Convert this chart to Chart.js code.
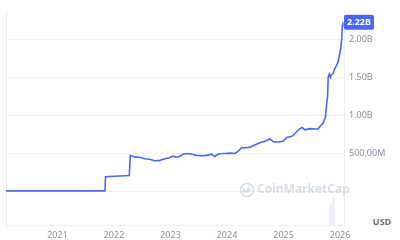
<!DOCTYPE html>
<html>
<head>
<meta charset="utf-8">
<script src="https://cdn.jsdelivr.net/npm/chart.js@4.4.1/dist/chart.umd.min.js"></script>
<style>
  html, body { margin: 0; padding: 0; background: #fff; }
  #wrap { width: 400px; height: 240px; position: relative; }
</style>
</head>
<body>
<div id="wrap"><canvas id="myChart"></canvas></div>
<script>
// dates as decimal years, market cap in billions USD
const dates = [2020.09, 2021.84, 2021.85, 2022.27, 2022.29, 2022.36, 2022.45, 2022.54, 2022.63, 2022.72,
  2022.81, 2022.90, 2022.98, 2023.04, 2023.11, 2023.16, 2023.22, 2023.29, 2023.38, 2023.46,
  2023.55, 2023.64, 2023.73, 2023.78, 2023.84, 2023.91, 2023.98, 2024.05, 2024.14, 2024.19,
  2024.26, 2024.32, 2024.40, 2024.49, 2024.58, 2024.67, 2024.76, 2024.83, 2024.90, 2024.99,
  2025.06, 2025.15, 2025.22, 2025.29, 2025.33, 2025.38, 2025.47, 2025.56, 2025.61, 2025.65,
  2025.70, 2025.74, 2025.76, 2025.78, 2025.79, 2025.81, 2025.83, 2025.84, 2025.88, 2025.90,
  2025.96, 2025.99, 2026.01, 2026.03, 2026.04, 2026.05];
const marketCap = [0.01, 0.01, 0.196, 0.21, 0.475, 0.455, 0.45, 0.43, 0.425, 0.405,
  0.41, 0.43, 0.445, 0.465, 0.45, 0.46, 0.49, 0.5, 0.49, 0.475,
  0.47, 0.475, 0.49, 0.46, 0.49, 0.5, 0.5, 0.505, 0.5, 0.525,
  0.575, 0.575, 0.58, 0.61, 0.64, 0.66, 0.69, 0.65, 0.65, 0.66,
  0.71, 0.725, 0.775, 0.825, 0.84, 0.81, 0.825, 0.82, 0.82, 0.86,
  0.9, 0.975, 1.125, 1.25, 1.5, 1.54, 1.5, 1.525, 1.55, 1.6,
  1.69, 1.79, 1.875, 2.0, 2.175, 2.22];
const volDates = [2025.835, 2025.885];
const volume = [0.75, 1.0];
const yearTicks = [2021, 2022, 2023, 2024, 2025, 2026];
const priceTicks = [0, 0.5, 1, 1.5, 2];

const blue = '#4a68f5';

function fmt(v) {
  if (v === 0) return '';
  if (v < 1) return (v * 1000).toFixed(2) + 'M';
  return v.toFixed(2) + 'B';
}

const extras = {
  id: 'extras',
  beforeDatasetsDraw(chart) {
    const c = chart.ctx, a = chart.chartArea;
    c.save();
    // left border
    c.strokeStyle = '#eceef2';
    c.lineWidth = 1;
    c.beginPath();
    c.moveTo(a.left + 0.5, a.top);
    c.lineTo(a.left + 0.5, a.bottom);
    c.stroke();
    // watermark
    c.globalAlpha = 0.5;
    c.strokeStyle = '#b8bfcc';
    c.fillStyle = '#b8bfcc';
    c.lineWidth = 1.6;
    const lx = 247, ly = 190;
    c.beginPath();
    c.arc(lx, ly, 6.5, 0, Math.PI * 2);
    c.stroke();
    c.beginPath();
    c.moveTo(lx - 3.5, ly + 3);
    c.lineTo(lx - 3.5, ly - 1);
    c.lineTo(lx - 1, ly + 2);
    c.lineTo(lx + 1.5, ly - 2);
    c.lineTo(lx + 1.5, ly + 1);
    c.lineTo(lx + 4, ly - 1);
    c.stroke();
    c.font = 'bold 12px "Noto Sans", sans-serif';
    c.textBaseline = 'middle';
    c.textAlign = 'left';
    c.fillText('CoinMarketCap', 257, ly);
    c.restore();
  },
  afterDraw(chart) {
    const c = chart.ctx, a = chart.chartArea;
    const y = chart.scales.y;
    const last = marketCap[marketCap.length - 1];
    const py = y.getPixelForValue(last);
    c.save();
    c.fillStyle = blue;
    c.beginPath();
    c.roundRect(a.right, py - 7.5, 30, 15, 2);
    c.fill();
    c.fillStyle = '#fff';
    c.font = 'bold 9px "Noto Sans", sans-serif';
    c.textBaseline = 'middle';
    c.textAlign = 'left';
    c.fillText(last.toFixed(2) + 'B', a.right + 3, py);
    c.fillStyle = '#6b7280';
    c.font = 'bold 9px "Noto Sans", sans-serif';
    c.textAlign = 'center';
    c.fillText('USD', 382, 222);
    c.restore();
  }
};

const ctx = document.getElementById('myChart').getContext('2d');
const myChart = new Chart(ctx, {
  data: {
    datasets: [{
      type: 'line',
      data: dates.map((d, i) => ({ x: d, y: marketCap[i] })),
      borderColor: blue,
      borderWidth: 1.6,
      pointRadius: 0,
      tension: 0,
      yAxisID: 'y',
      order: 1
    }, {
      type: 'bar',
      data: volDates.map((d, i) => ({ x: d, y: volume[i] })),
      backgroundColor: '#eef0f5',
      barThickness: 2.5,
      grouped: false,
      yAxisID: 'vol',
      order: 2
    }]
  },
  options: {
    responsive: true,
    maintainAspectRatio: false,
    animation: false,
    layout: { padding: { left: 6, top: 0, right: 0, bottom: 0 } },
    plugins: { legend: { display: false }, tooltip: { enabled: false } },
    scales: {
      x: {
        type: 'linear',
        offset: false,
        min: 2020.089,
        max: 2026.07,
        afterBuildTicks: (s) => { s.ticks = yearTicks.map(v => ({ value: v })); },
        afterFit: (s) => { s.height = 15; },
        ticks: {
          callback: (v) => String(v),
          color: '#8a8f9c',
          font: { family: 'Noto Sans', size: 9 },
          padding: 5,
          maxRotation: 0
        },
        grid: { display: false, offset: false, drawTicks: false },
        border: { display: true, color: '#eceef2' }
      },
      y: {
        position: 'right',
        min: -0.4375,
        max: 2.375,
        afterBuildTicks: (s) => { s.ticks = priceTicks.map(v => ({ value: v })); },
        afterFit: (s) => { s.width = 56; },
        ticks: {
          callback: (v) => fmt(v),
          color: '#8a8f9c',
          font: { family: 'Noto Sans', size: 9 },
          padding: 5
        },
        grid: { color: '#f0f1f4', drawTicks: false },
        border: { display: true, color: '#eceef2' }
      },
      vol: {
        display: false,
        min: 0,
        max: 7.8
      }
    }
  },
  plugins: [extras]
});
</script>
</body>
</html>
